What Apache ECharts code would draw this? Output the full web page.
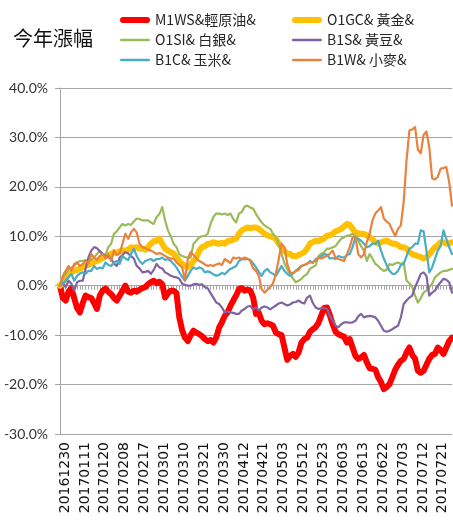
<!DOCTYPE html>
<html><head><meta charset="utf-8">
<script src="https://cdn.jsdelivr.net/npm/echarts@6/dist/echarts.min.js"></script>
<style>html,body{margin:0;padding:0;background:#fff}#c{width:453px;height:525px}</style>
</head><body><div id="c"></div>
<script>
const dates = ['20161230','20170103','20170104','20170105','20170106','20170109','20170110','20170111','20170112','20170113',
'20170116','20170117','20170118','20170119','20170120','20170123','20170124','20170202','20170203','20170206',
'20170207','20170208','20170209','20170210','20170213','20170214','20170215','20170216','20170217','20170218',
'20170220','20170221','20170222','20170223','20170224','20170301','20170302','20170303','20170306','20170307',
'20170308','20170309','20170310','20170313','20170314','20170315','20170316','20170317','20170320','20170321',
'20170322','20170323','20170324','20170327','20170328','20170329','20170330','20170331','20170405','20170406',
'20170407','20170410','20170411','20170412','20170413','20170414','20170417','20170418','20170419','20170420',
'20170421','20170424','20170425','20170426','20170427','20170428','20170502','20170503','20170504','20170505',
'20170508','20170509','20170510','20170511','20170512','20170515','20170516','20170517','20170518','20170519',
'20170522','20170523','20170524','20170525','20170526','20170531','20170601','20170602','20170603','20170605',
'20170606','20170607','20170608','20170609','20170612','20170613','20170614','20170615','20170616','20170619',
'20170620','20170621','20170622','20170623','20170626','20170627','20170628','20170629','20170630','20170703',
'20170704','20170705','20170706','20170707','20170710','20170711','20170712','20170713','20170714','20170717',
'20170718','20170719','20170720','20170721','20170724','20170725','20170726','20170727','20170728'];

const yTicks = [-30, -20, -10, 0, 10, 20, 30, 40];

const names = ['M1WS&輕原油&', 'O1GC& 黃金&', 'O1SI& 白銀&', 'B1S& 黃豆&', 'B1C& 玉米&', 'B1W& 小麥&'];

const crudeOil = [0,-2.5,-3,-1.2,-0.5,-2.5,-4.5,-5.4,-3.5,-2,
-2.3,-2.5,-3.5,-4.7,-2,-1,-0.6,-1.2,-1.7,-2.5,
-3,-2,-1,0,-1.2,-1.4,-1,-1.2,-0.8,-0.5,
-0.3,0.3,0.7,1,0.5,0.8,0.3,-2.4,-1.5,-1,
-1,-1.5,-6.4,-9,-10.5,-11.2,-10,-9.1,-9.5,-9.8,
-10.2,-10.8,-11.2,-11,-11.5,-10.5,-8.5,-7.4,-6.1,-5.4,
-4.1,-3,-2,-0.7,-0.5,-1,-0.8,-1,-2.4,-5.7,
-5.5,-7.1,-7.8,-7.6,-7.8,-8.1,-9.5,-9.8,-10,-12.5,
-15,-14.2,-13.8,-14.4,-13.5,-11.5,-10.8,-10.5,-9.3,-8.8,
-8.4,-7.5,-6,-4.5,-4.4,-6,-7.8,-9.3,-9.8,-10.1,
-10.3,-11.5,-10.8,-12.5,-14.2,-14.8,-14.5,-14,-15.5,-16.7,
-16.8,-17,-18.5,-19.5,-20.9,-20.5,-19.9,-18.5,-17,-16,
-15.2,-14.8,-13.5,-12.5,-14,-14.8,-17.2,-17.6,-17.2,-16,
-14.8,-14,-13.8,-12.5,-13,-13.8,-12.5,-11.2,-10.5];

const gold = [0,0.8,1.5,2.4,2.6,3,3.2,3.5,3.7,4,
4.2,4.5,4.8,5,5.3,5.6,6,6.2,6.4,6.8,
6.6,7,7.1,7.1,7.3,7.8,7.6,7.8,7.5,7.5,
7.3,7.8,8.5,9,9.1,9.5,8.5,7.5,7.1,6.8,
6.5,5.8,5,4.4,4,3.7,4.2,5,5.7,7.1,
7.8,8,8.5,8.5,8.8,8.6,8.5,8.7,8.5,9,
9.1,9.3,9.5,10.5,11.2,11.5,11.8,11.6,11.8,11.8,
11.5,11,10.5,10.2,10,9.8,9.5,8.5,7.8,7,
6.5,6.4,6,6,6.2,6.5,6.8,7.5,8.5,8.8,
9.1,9,9.3,9.6,10.1,10.2,10.5,11,11.2,11.5,
12,12.5,12.3,11.5,10.8,10.6,10.5,10.5,10.2,9.8,
9.4,8.8,8.5,8.8,9,9.1,8.8,8.5,8.5,8.2,
7.8,7.8,7.5,6.8,6.4,6.2,6,5.8,5.5,5.7,
6.4,7.1,7.8,8.2,8.8,8.8,8.5,8.6,8.8];

const silver = [0,1.5,2.4,3.4,3.7,4,4.7,5,5,5.2,
5,5.3,5.7,6.4,7,6.4,6.2,7.8,8.5,10.5,
11,11.8,12.5,12.2,12.5,12.3,13,13.6,13.5,13.2,
13.2,13.2,12.8,12.5,13.9,14.5,15.9,13.2,11.2,10,
8.5,7.8,6.4,6,5.8,5.7,5.7,8.5,9.1,9.8,
10,10.1,10.5,12.5,13.9,14.6,14.6,14.4,14.6,14.3,
14.6,13.5,12.8,14.6,14.9,16,16.2,15.8,15.6,14.5,
13.6,12.8,12.2,11.8,11.5,10.5,9.8,8.5,6.4,4.5,
3.4,2.4,1.5,0.7,1,1.4,2,2.4,3.4,3.8,
4.1,6,6.5,6.8,7.5,7.5,7.8,8,8.8,9.5,
9.8,10.1,10.2,10.5,10,9.1,8,7.1,5,6.4,
5.5,4.4,4,3.4,3,3.2,4.4,4.2,4.5,4.7,
4.4,4.7,1,0.5,-0.3,-2,-3.4,-2.5,-1.4,-1,
-0.3,0.4,1.7,2.2,2.7,3,3,3.2,3.4];

const soybean = [0,0.5,-0.3,1,0.4,-1,0.7,1,1,3.4,
5.7,7.1,7.8,7.6,7,6.4,6,5.8,5.4,4.5,
4,5.7,6.2,6.8,6.5,6,5.5,4,3.5,2.7,
2.8,3,2.4,3.2,4.4,3.7,3.5,2.7,2.4,2,
1.8,1.7,1.4,0.4,0.2,0,0,0.3,0.4,0.2,
0.3,-0.3,-0.5,-1.5,-2.4,-3.4,-3.7,-4.4,-5.4,-5.2,
-5.4,-5.5,-5.7,-5.7,-5,-4.7,-4.2,-4.1,-4.8,-4.4,
-5,-4.4,-4.2,-4.4,-4.8,-4.4,-4,-3.6,-3.4,-3.7,
-4,-3.8,-3.4,-3.3,-3,-3.4,-3.6,-2.4,-2,-3.5,
-4.4,-4.7,-4.6,-4.5,-4.7,-6.1,-7.1,-8.1,-8.4,-7.8,
-7.4,-7.4,-7.5,-7.4,-7.1,-6.2,-5.7,-6.4,-6.2,-6.1,
-6.2,-6.4,-7.1,-8.1,-9.1,-9.3,-9.1,-8.8,-8.4,-8.1,
-6.4,-3.7,-3,-2.4,-2,-0.3,1,2.4,2.7,2,
-2,-1.4,-1,0,0.7,1.4,1.2,0.7,-1.4];

const corn = [0,0.4,1,1.7,2.4,1,2,2.5,2.7,2.4,
3,3,4,3.4,3.7,3.5,4.7,4.2,4,4.7,
5,4.4,6,5.5,5.2,6.4,7.5,6,5,4.4,
5,5.2,5.4,5,5.4,5.4,5.7,5.2,5.4,5,
4.4,3.7,2.7,1.8,1,2,3,3.7,3.4,3.7,
3.5,2.7,2.9,2.7,2.3,2,2.2,2.6,2.3,2.9,
3.4,3.7,4,5,5.4,5.3,5.4,5.2,4.5,3.7,
2.8,2,3,3.4,2.7,2.4,2,3,4,3,
2.4,2,2.5,3,3.5,4,4.2,4.4,5,4.6,
5.4,5.6,6,6.4,6.3,5.5,5.6,5.4,6,5.8,
5.7,6.2,6.4,7.8,9.8,9.5,9.1,8.5,7.8,8,
8.5,8.5,9.1,7.1,5.5,4.2,3,2.4,2.4,3,
4.2,4.4,6,7.5,7.8,8.5,8.5,11.2,11,7.1,
2.7,3.7,5.4,7.1,8,11.2,9.5,7.8,6.4];

const wheat = [0,2,3,4,3,4.4,4.7,4,4.4,5,
4.5,6.4,5.7,5.2,6,6.4,5.5,6.4,5,7.1,
6.2,6.5,8.5,10.5,9.5,10.8,11.5,10.8,8.5,7.8,
7.6,7.3,7.1,6.8,6.4,6.6,6.4,6,5.7,5.5,
5.5,4.7,4.2,3.7,1.2,5.4,6.8,6.2,5.5,5,
4.7,4.3,4,4.2,4,4.3,4.5,4.2,5.4,5,
4.6,5.7,5.5,5.7,5.4,5.7,5.5,5,3.5,3,
2,-0.7,-1.4,-0.8,-0.3,0.5,2.4,5.4,8.5,7.8,
4.4,2.7,2.5,3,3.2,4,4.2,4.5,4.7,4.8,
5,5.7,5.5,5.8,6,6.5,7.1,5.6,5.4,5.2,
5,6.4,7.8,9.8,9.8,6.4,5.7,6.4,8.8,10.5,
13.2,14.6,15.2,15.9,13.6,13,12.5,11.2,10.1,11.5,
12.2,17,25.4,31.4,31.6,32.1,27.5,26.8,30.5,31.2,
28,21.7,21.5,22,23.7,23.8,24,21,16.2];

const colors = ['#FF0000', '#FFC000', '#9BBB59', '#8064A2', '#4BACC6', '#E9823D'];
const widths = [6, 6, 2.2, 2.2, 2.2, 2.2];
const values = [crudeOil, gold, silver, soybean, corn, wheat];

const thickIcon = 'path://M3,0 H27 A3,3 0 0 1 27,6 H3 A3,3 0 0 1 3,0 Z';
const thinIcon = 'path://M1,0 H29 A1.2,1.2 0 0 1 29,2.4 H1 A1.2,1.2 0 0 1 1,0 Z';
const legendText = { color: '#262626', fontSize: 14, fontFamily: 'Noto Sans CJK TC' };

const chart = echarts.init(document.getElementById('c'));
chart.setOption({
  animation: false,
  backgroundColor: '#fff',
  title: {
    text: '今年漲幅', left: 8, top: 23,
    textStyle: { fontSize: 20, fontWeight: 'normal', color: '#111', fontFamily: 'Noto Sans CJK TC' }
  },
  legend: [
    { orient: 'vertical', left: 115, top: 8, itemWidth: 30, itemHeight: 14, itemGap: 6,
      textStyle: legendText,
      data: [{ name: names[0], icon: thickIcon }, { name: names[2], icon: thinIcon }, { name: names[4], icon: thinIcon }] },
    { orient: 'vertical', left: 287, top: 8, itemWidth: 30, itemHeight: 14, itemGap: 6,
      textStyle: legendText,
      data: [{ name: names[1], icon: thickIcon }, { name: names[3], icon: thinIcon }, { name: names[5], icon: thinIcon }] }
  ],
  grid: { left: 60, right: 1, top: 88, bottom: 91, outerBoundsMode: 'none' },
  xAxis: [
    { type: 'category', data: dates, boundaryGap: false, position: 'bottom',
      axisLine: { show: false, onZero: false }, axisTick: { show: false },
      axisLabel: { interval: 6, rotate: 90, margin: 8, fontSize: 14, color: '#111',
        fontFamily: 'DejaVu Sans', verticalAlign: 'top', lineHeight: 10 },
      splitLine: { show: false } },
    { type: 'category', data: dates, boundaryGap: false, position: 'bottom',
      axisLine: { show: true, onZero: true, lineStyle: { color: '#A6A6A6', width: 1 } },
      axisTick: { show: true, interval: 0, length: 4, lineStyle: { color: '#A6A6A6' } },
      axisLabel: { show: false }, splitLine: { show: false } }
  ],
  yAxis: {
    type: 'value', min: yTicks[0], max: yTicks[yTicks.length - 1], interval: 10,
    axisLine: { show: true, lineStyle: { color: '#A6A6A6', width: 1 } },
    axisTick: { show: true, length: 5, lineStyle: { color: '#A6A6A6' } },
    axisLabel: { formatter: v => v.toFixed(1) + '%', fontSize: 14, color: '#333', margin: 12,
      fontFamily: 'Lato' },
    splitLine: { lineStyle: { color: '#A6A6A6', width: 1 } }
  },
  series: names.map((n, k) => ({
    name: n, type: 'line', data: values[k], xAxisIndex: 0,
    symbol: 'none', smooth: false, z: 2 + k,
    itemStyle: { color: colors[k] },
    lineStyle: { color: colors[k], width: widths[k], cap: 'round', join: 'round' }
  }))
});
</script>
</body></html>
